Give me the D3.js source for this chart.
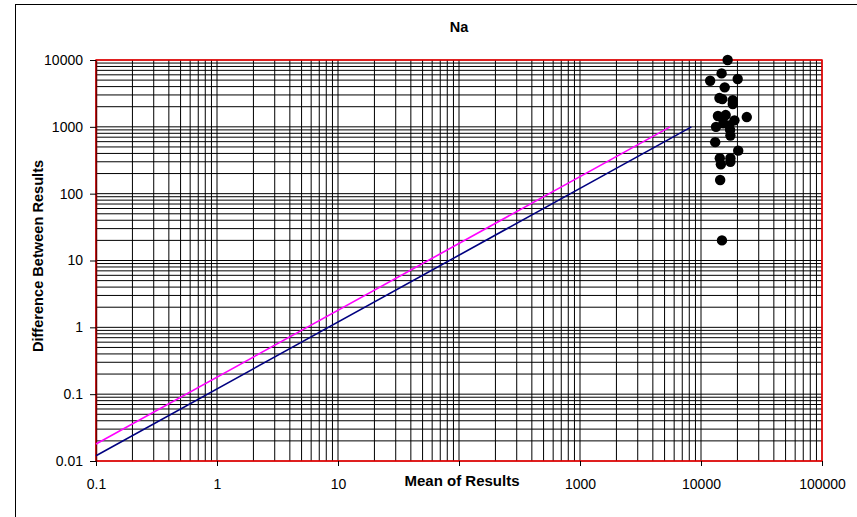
<!DOCTYPE html>
<html><head><meta charset="utf-8">
<script src="https://cdn.jsdelivr.net/npm/d3@7"></script>
<style>body{margin:0;background:#fff}svg{display:block;font-family:"Liberation Sans",Arial,sans-serif}</style>
</head><body><svg id="c" width="857" height="517"></svg>
<script>
const title = "Na";
const xLabel = "Mean of Results";
const yLabel = "Difference Between Results";
const xTicks = [0.1, 1, 10, 100, 1000, 10000, 100000];
const yTicks = [0.01, 0.1, 1, 10, 100, 1000, 10000];
const meanValues = [16600,14800,11900,20100,15700,14200,15000,18300,18300,23900,13800,16000,18900,13300,15300,17100,17400,17500,13100,20300,14300,17500,14600,17500,14400,14900];
const diffValues = [10000,6300,4900,5200,3900,2700,2600,2500,2200,1400,1450,1500,1250,1000,1130,1050,900,740,590,440,340,340,275,300,160,20];
const blueLineX = [0.1, 8333];
const blueLineY = [0.012, 1000];
const pinkLineX = [0.1, 5556];
const pinkLineY = [0.018, 1000];

const svg = d3.select("#c");
const L = 96, R = 822, T = 60, B = 461;
const x = d3.scaleLog().domain([0.1, 100000]).range([L, R]);
const y = d3.scaleLog().domain([0.01, 10000]).range([B, T]);

// outer chart border
svg.append("rect").attr("x", 15.5).attr("y", 4.5).attr("width", 900).attr("height", 600)
  .attr("fill", "none").attr("stroke", "#000").attr("stroke-width", 1);

// grid lines (majors + minors)
const minorVals = (dom) => {
  const out = [];
  for (let e = Math.log10(dom[0]); e < Math.log10(dom[1]); e++) {
    for (let m = 1; m <= 9; m++) out.push(m * Math.pow(10, e));
  }
  out.push(dom[1]);
  return out;
};
const g = svg.append("g");
g.selectAll(".vx").data(minorVals(x.domain())).join("line")
  .attr("x1", d => x(d)).attr("x2", d => x(d)).attr("y1", T).attr("y2", B)
  .attr("stroke", "#000").attr("stroke-width", 1);
g.selectAll(".hy").data(minorVals(y.domain())).join("line")
  .attr("y1", d => y(d)).attr("y2", d => y(d)).attr("x1", L).attr("x2", R)
  .attr("stroke", "#000").attr("stroke-width", 1);

// plot border
svg.append("rect").attr("x", L).attr("y", T).attr("width", R - L).attr("height", B - T)
  .attr("fill", "none").attr("stroke", "#ff0000").attr("stroke-width", 1.5);

// axes
const fmt = d => String(+d.toPrecision(6));
const xa = svg.append("g").attr("transform", `translate(0,${B})`)
  .call(d3.axisBottom(x).tickValues(xTicks).tickFormat(fmt).tickSizeOuter(0).tickSizeInner(5).tickPadding(13));
const ya = svg.append("g").attr("transform", `translate(${L},0)`)
  .call(d3.axisLeft(y).tickValues(yTicks).tickFormat(fmt).tickSizeOuter(0).tickSizeInner(6).tickPadding(7));
[xa, ya].forEach(a => {
  a.selectAll("text").attr("font-size", 14).attr("fill", "#000").attr("font-family", '"Liberation Sans",Arial,sans-serif');
  a.selectAll("line").attr("stroke", "#000");
});
xa.select(".domain").attr("stroke", "none");
ya.select(".domain").attr("stroke", "#6b0000").attr("stroke-width", 1.5);
// the axis title sits where the "100" label would be
xa.selectAll(".tick text").filter(d => d === 100).text("");

// lines
const line = d3.line().x(d => x(d[0])).y(d => y(d[1]));
svg.append("path").datum(pinkLineX.map((v, i) => [v, pinkLineY[i]]))
  .attr("d", line).attr("fill", "none").attr("stroke", "#ff00ff").attr("stroke-width", 1.6);
svg.append("path").datum(blueLineX.map((v, i) => [v, blueLineY[i]]))
  .attr("d", line).attr("fill", "none").attr("stroke", "#000080").attr("stroke-width", 1.6);

// points
svg.append("g").selectAll("circle").data(meanValues.map((v, i) => [v, diffValues[i]])).join("circle")
  .attr("cx", d => x(d[0])).attr("cy", d => y(d[1])).attr("r", 5.2).attr("fill", "#000");

// titles
svg.append("text").attr("x", 459).attr("y", 32).attr("text-anchor", "middle")
  .attr("font-size", 14.5).attr("font-weight", "bold").text(title);
svg.append("text").attr("x", 462).attr("y", 486).attr("text-anchor", "middle")
  .attr("font-size", 15).attr("font-weight", "bold").text(xLabel);
svg.append("text").attr("transform", "translate(43,256) rotate(-90)").attr("text-anchor", "middle")
  .attr("font-size", 14.6).attr("font-weight", "bold").text(yLabel);
</script></body></html>
